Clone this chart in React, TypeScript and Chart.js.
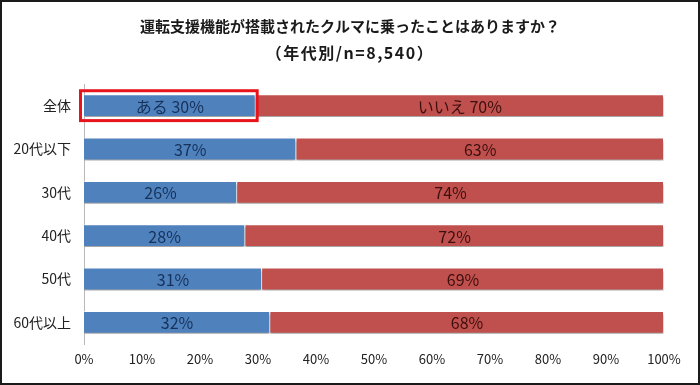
import React, { useEffect, useRef } from "react";
import { Chart, registerables } from "chart.js";

Chart.register(...registerables);

const categories = ["全体", "20代以下", "30代", "40代", "50代", "60代以上"];
const yesValues = [29.6, 36.6, 26.4, 27.8, 30.7, 32.1];
const noValues = [70.4, 63.4, 73.6, 72.2, 69.3, 67.9];
const yesLabels = ["ある 30%", "37%", "26%", "28%", "31%", "32%"];
const noLabels = ["いいえ 70%", "63%", "74%", "72%", "69%", "68%"];
const xTicks = [0, 10, 20, 30, 40, 50, 60, 70, 80, 90, 100];
const titleLines = ["運転支援機能が搭載されたクルマに乗ったことはありますか？", "（年代別/n=8,540）"];

const FONT = "'Noto Sans CJK JP', 'Noto Sans', sans-serif";

export default function App() {
  const ref = useRef<HTMLCanvasElement | null>(null);

  useEffect(() => {
    document.body.style.margin = "0";
    const canvas = ref.current;
    if (!canvas) return;

    const framePlugin = {
      id: "frame",
      beforeDraw(chart: any) {
        const c = chart.ctx;
        c.save();
        c.fillStyle = "#ffffff";
        c.fillRect(0, 0, chart.width, chart.height);
        c.restore();
      },
      afterDraw(chart: any) {
        const c = chart.ctx;
        c.save();
        c.fillStyle = "#1a1a1a";
        c.font = `bold 15px ${FONT}`;
        c.textAlign = "center";
        c.textBaseline = "middle";
        c.fillText(titleLines[0], chart.width / 2, 26);
        c.font = `bold 16px ${FONT}`;
        (c as any).letterSpacing = "1.5px";
        c.fillText(titleLines[1], chart.width / 2, 53);
        (c as any).letterSpacing = "0px";
        c.strokeStyle = "#1a1a1a";
        c.lineWidth = 2;
        c.strokeRect(1, 1, chart.width - 2, chart.height - 2);
        c.restore();
      },
    };

    const shadowPlugin = {
      id: "barShadow",
      beforeDatasetsDraw(chart: any) {
        const c = chart.ctx;
        c.save();
        c.shadowColor = "rgba(0,0,0,0.35)";
        c.shadowBlur = 2;
        c.shadowOffsetX = 0;
        c.shadowOffsetY = 3;
      },
      afterDatasetsDraw(chart: any) {
        const c = chart.ctx;
        c.restore();
        const labelSets = [yesLabels, noLabels];
        const colors = ["#16325a", "#3d0f0e"];
        chart.data.datasets.forEach((ds: any, di: number) => {
          const meta = chart.getDatasetMeta(di);
          meta.data.forEach((bar: any, i: number) => {
            const props = bar.getProps(["x", "y", "base"], true);
            const cx = (props.x + props.base) / 2;
            c.save();
            c.fillStyle = colors[di];
            c.font = `16px ${FONT}`;
            c.textAlign = "center";
            c.textBaseline = "middle";
            c.fillText(labelSets[di][i], cx, props.y + 1);
            c.restore();
          });
        });
        const m0 = chart.getDatasetMeta(0);
        const b = m0.data[0].getProps(["x", "y", "base", "height"], true);
        c.save();
        c.strokeStyle = "#e8141c";
        c.lineWidth = 3;
        c.strokeRect(b.base - 3.5, b.y - b.height / 2 - 3.5, b.x - b.base + 5, b.height + 7);
        c.restore();
      },
    };

    const chart = new Chart(canvas, {
      type: "bar",
      data: {
        labels: categories,
        datasets: [
          {
            label: "ある",
            data: yesValues,
            backgroundColor: "#4f81bd",
            borderColor: "rgba(255,255,255,0.55)",
            borderWidth: 1,
            barPercentage: 0.6,
            categoryPercentage: 0.88,
          },
          {
            label: "いいえ",
            data: noValues,
            backgroundColor: "#c0504d",
            borderColor: "rgba(255,255,255,0.55)",
            borderWidth: 1,
            barPercentage: 0.6,
            categoryPercentage: 0.88,
          },
        ],
      },
      options: {
        indexAxis: "y",
        responsive: false,
        animation: false,
        layout: { padding: { top: 84, right: 36, bottom: 0, left: 0 } },
        plugins: {
          legend: { display: false },
          tooltip: { enabled: false },
          title: { display: false },
        },
        scales: {
          x: {
            stacked: true,
            min: 0,
            max: 100,
            afterBuildTicks(scale: any) {
              scale.ticks = xTicks.map((v) => ({ value: v }));
            },
            afterFit(scale: any) {
              scale.height = 41;
            },
            grid: { display: false, drawTicks: false },
            border: { display: false },
            ticks: {
              padding: 7,
              color: "#222",
              font: { family: FONT, size: 13 },
              maxRotation: 0,
              autoSkip: false,
              callback: (v: any) => `${v}%`,
            },
          },
          y: {
            stacked: true,
            afterFit(scale: any) {
              scale.width = 84;
            },
            grid: { display: false, drawTicks: false },
            border: { display: true, color: "#b8b8b8", width: 1 },
            ticks: {
              padding: 13,
              color: "#222",
              font: { family: FONT, size: 14 },
            },
          },
        },
      },
      plugins: [framePlugin, shadowPlugin],
    } as any);

    return () => chart.destroy();
  }, []);

  return (
    <div style={{ width: 700, height: 385 }}>
      <canvas ref={ref} width={700} height={385} style={{ display: "block" }} />
    </div>
  );
}
